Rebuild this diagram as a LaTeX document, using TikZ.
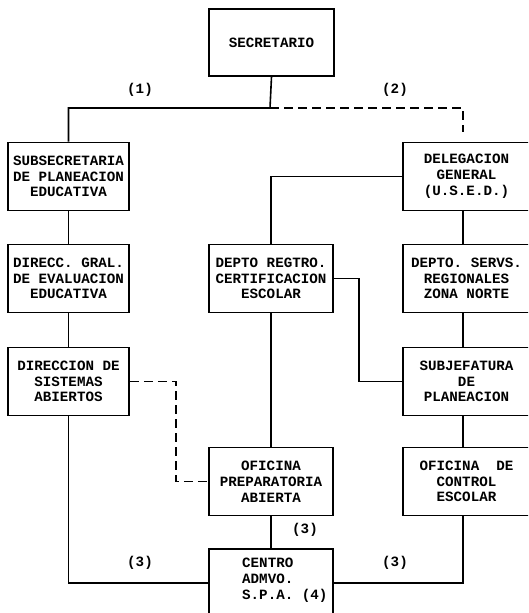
\documentclass[tikz,border=0pt]{standalone}
\usepackage{fontspec}
\newfontfamily\orgfont{Liberation Mono}[BoldFont={Liberation Mono Bold}]
\begin{document}
\begin{tikzpicture}[x=1pt,y=-1pt,
  every node/.style={font=\orgfont\bfseries\fontsize{14.2}{15.8}\selectfont},
  box/.style={draw, line width=1.6pt, align=center, inner sep=0pt, minimum height=68pt},
  boxl/.style={box, minimum width=121pt},
  boxm/.style={box, minimum width=124pt},
  boxr/.style={box, minimum width=127pt},
  link/.style={line width=1.6pt},
  dlink/.style={line width=1.6pt, dash pattern=on 9pt off 5pt},
  lbl/.style={inner sep=0pt}]
\useasboundingbox (0,0) rectangle (528,613);
\fill[white] (0,0) rectangle (528,613);
\clip (0,0) rectangle (528,613);

\node[box, minimum width=125pt, minimum height=67pt] (sec) at (271.5,42.5) {SECRETARIO};

\node[boxl] (subsec) at (68.5,176.5) {SUBSECRETARIA\\DE PLANEACION\\EDUCATIVA};
\node[boxr] (deleg) at (466.5,176.5) {DELEGACION\\GENERAL\\(U.S.E.D.)};

\node[boxl] (direcc) at (68.5,278.5) {DIRECC. GRAL.\\DE EVALUACION\\EDUCATIVA};
\node[boxm] (regtro) at (271,278.5) {DEPTO REGTRO.\\CERTIFICACION\\ESCOLAR};
\node[boxr] (servs) at (466.5,278.5) {DEPTO. SERVS.\\REGIONALES\\ZONA NORTE};

\node[boxl] (dirsis) at (68.5,381.5) {DIRECCION DE\\SISTEMAS\\ABIERTOS};
\node[boxr] (subj) at (466.5,381.5) {SUBJEFATURA\\DE\\PLANEACION};

\node[boxm] (ofprep) at (271,481.5) {OFICINA\\PREPARATORIA\\ABIERTA};
\node[boxr] (ofcont) at (466.5,481.5) {OFICINA~~DE\\CONTROL\\ESCOLAR};

\node[boxm] (centro) at (271,583) {};
\node[lbl, anchor=west, align=left] (centrotext) at (242,580) {CENTRO\\ADMVO.\\S.P.A.~(4)};

% labels
\node[lbl] (l1) at (140,90) {(1)};
\node[lbl] (l2) at (395,90) {(2)};
\node[lbl] (l3a) at (305,530) {(3)};
\node[lbl] (l3b) at (140,563) {(3)};
\node[lbl] (l3c) at (395,563) {(3)};

% connectors
\coordinate (j1) at (270,108);
\coordinate (d2) at (463,132);
\draw[link] (sec.south) -- (j1) -| (subsec.north);
\draw[dlink] (j1) -| (d2);

\draw[link] (subsec) -- (direcc);
\draw[link] (direcc) -- (dirsis);
\draw[link] ([xshift=-3.5pt]deleg.south) -- ([xshift=-3.5pt]servs.north);
\draw[link] ([xshift=-3.5pt]servs.south) -- ([xshift=-3.5pt]subj.north);
\draw[link] ([xshift=-3.5pt]subj.south) -- ([xshift=-3.5pt]ofcont.north);

\draw[link] (deleg.west) -| (regtro.north);
\coordinate (r1) at (359,381.5);
\draw[link] (regtro.east) -| (r1) -- (subj.west);
\draw[link] (regtro.south) -- (ofprep.north);
\draw[link] (ofprep.south) -- (centro.north);

\coordinate (s1) at (176,381.5);
\coordinate (s2) at (176,481.5);
\draw[dlink] (dirsis.east) -- (s1) -- (s2) -- (ofprep.west);

\draw[link] (dirsis.south) |- (centro.west);
\draw[link] ([xshift=-3.5pt]ofcont.south) |- (centro.east);
\end{tikzpicture}
\end{document}
